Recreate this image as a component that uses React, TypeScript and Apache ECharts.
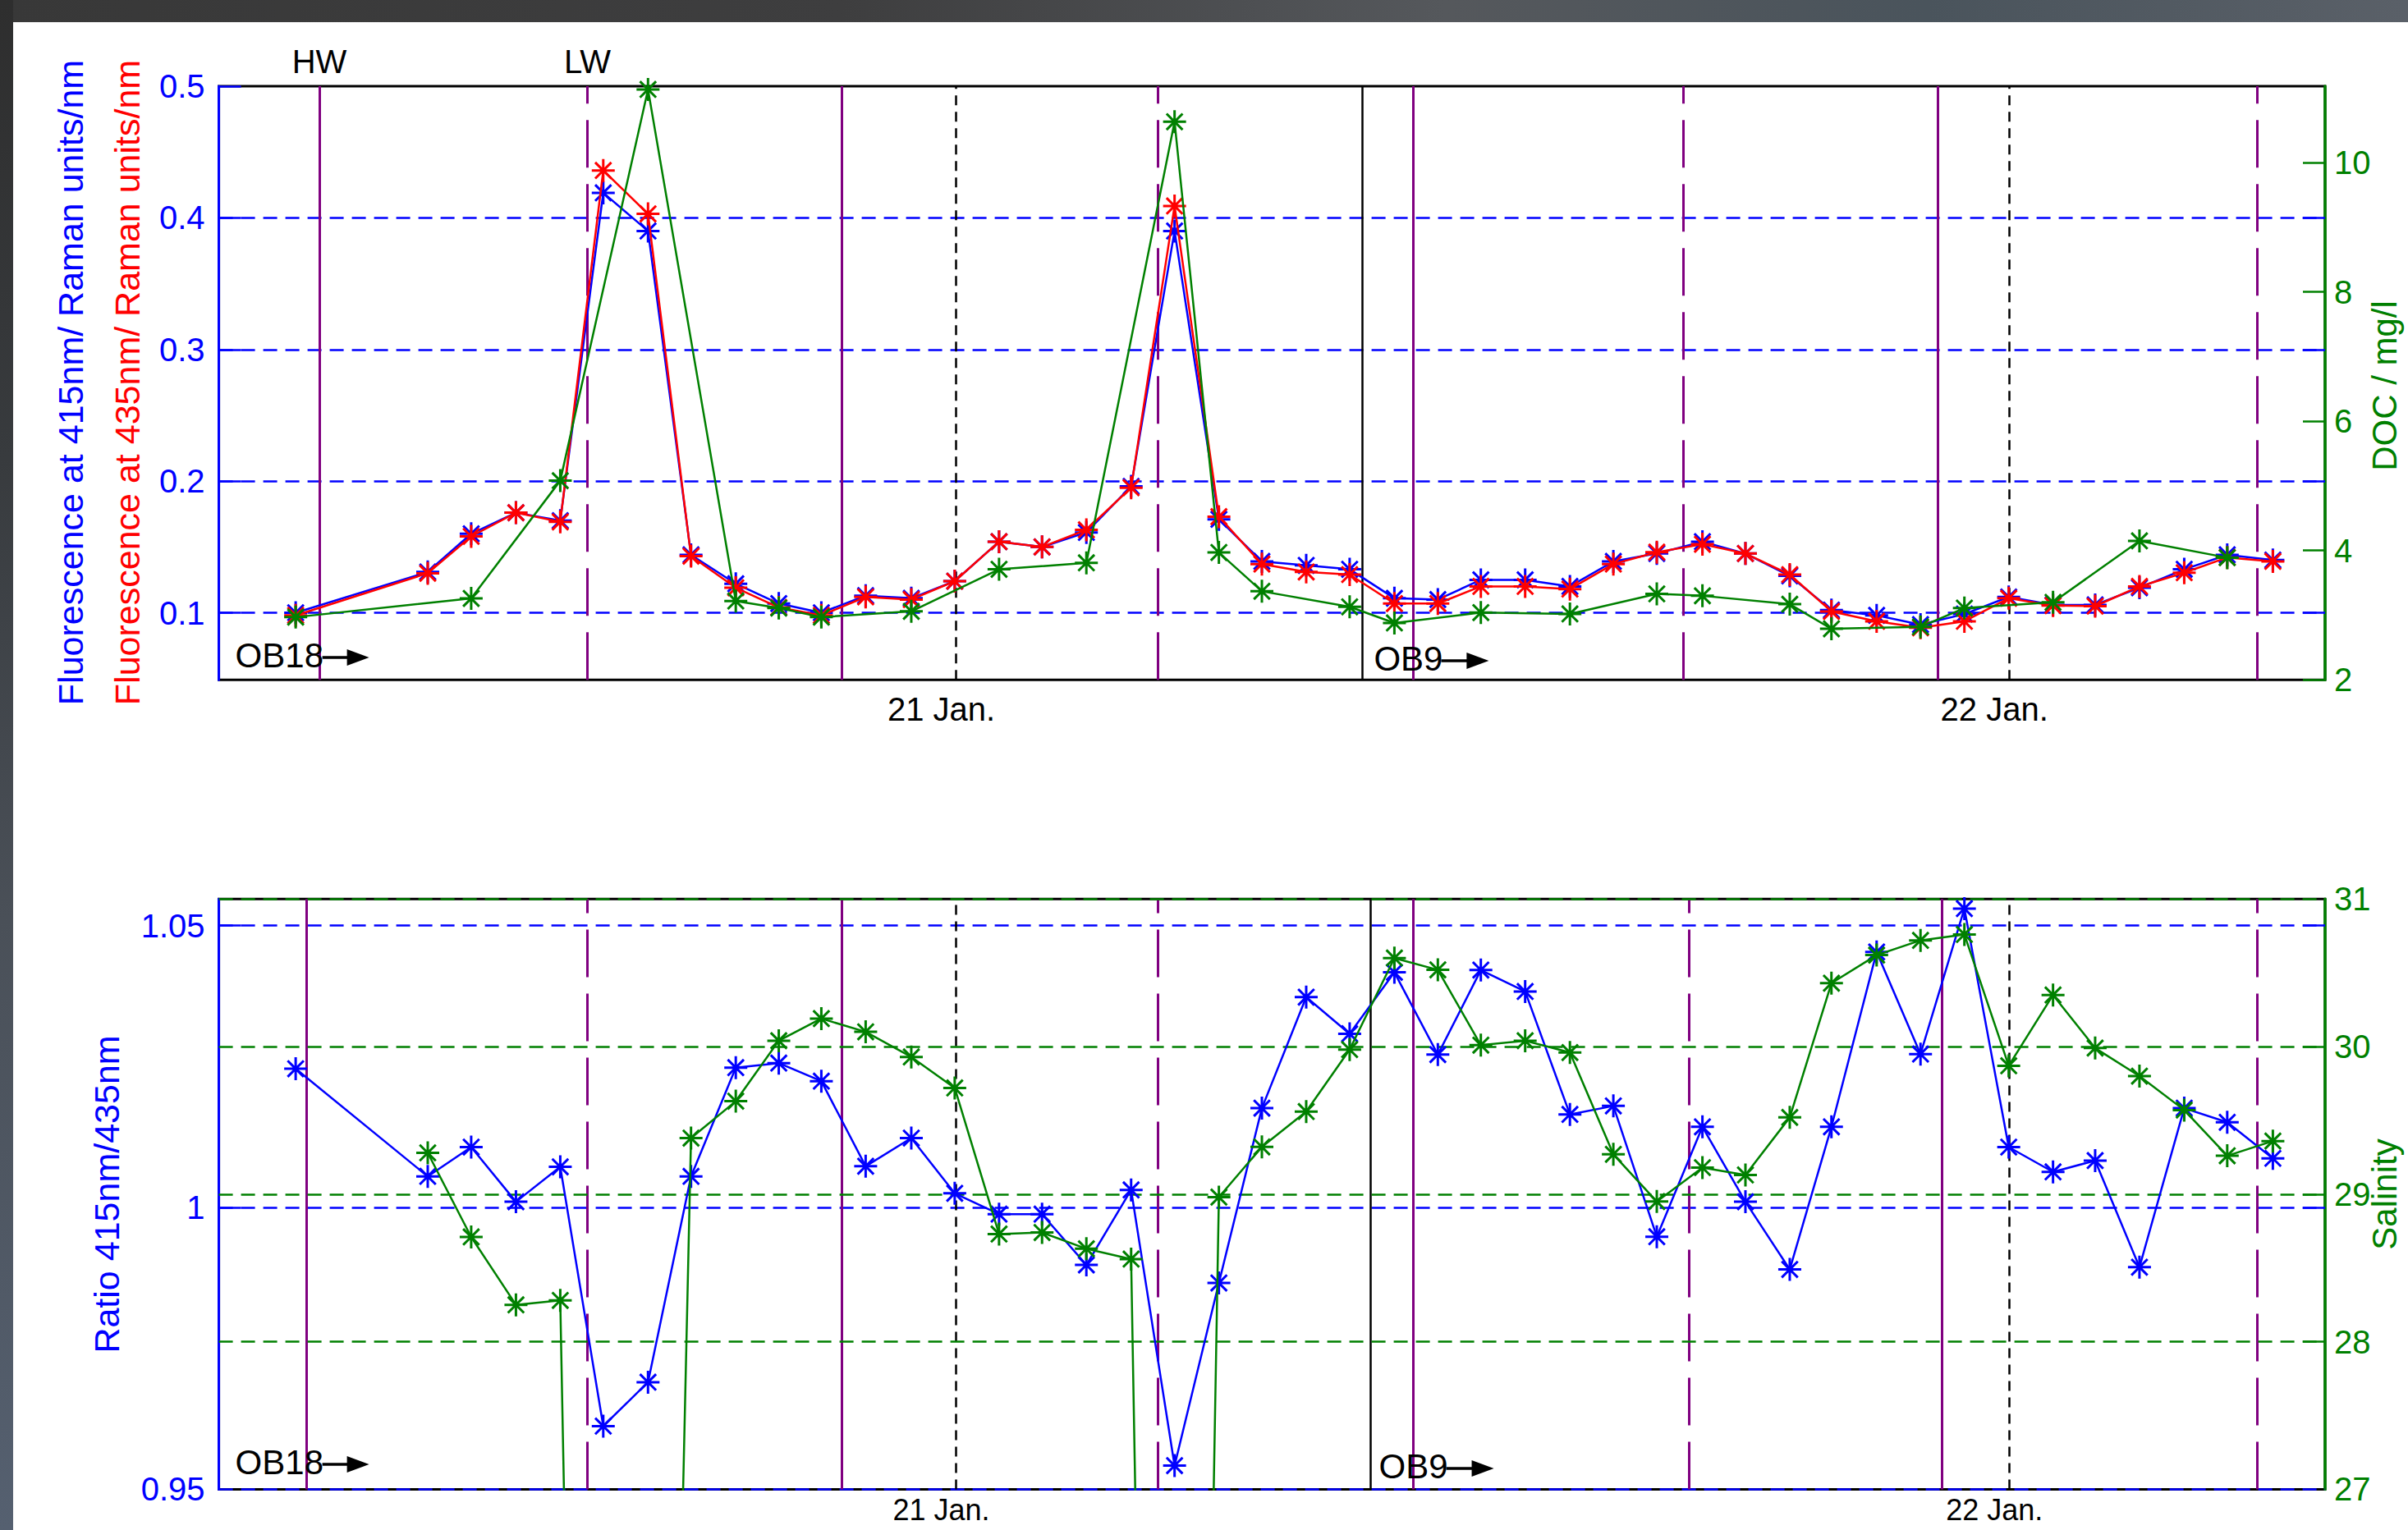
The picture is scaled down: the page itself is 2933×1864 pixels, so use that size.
import React, { useEffect, useRef } from 'react';
import * as echarts from 'echarts';

const W = 2933;
const H = 1864;
const BLUE = '#0000ff';
const RED = '#ff0000';
const GREEN = '#008000';
const PURPLE = '#800080';
const BLACK = '#000000';
const FONT = "'Liberation Sans', Arial, Helvetica, sans-serif";

// ---------- data (hours since 20 Jan 00:00) ----------
const timesFluor = [8.95, 11.96, 12.95, 13.97, 14.98, 15.96, 16.98, 17.96, 18.98, 19.96, 20.93, 21.94, 22.98, 23.97, 24.98, 25.96, 26.97, 27.99, 28.98, 29.99, 30.97, 31.98, 32.97, 33.99, 34.98, 35.96, 36.97, 37.99, 38.98, 39.97, 41.01, 41.99, 43.0, 43.95, 44.98, 45.98, 46.98, 47.99, 49.0, 49.96, 50.97, 51.99, 52.97, 54.01];
const fluor415 = [0.100, 0.131, 0.160, 0.176, 0.170, 0.419, 0.390, 0.144, 0.122, 0.107, 0.100, 0.113, 0.111, 0.124, 0.154, 0.150, 0.161, 0.196, 0.390, 0.171, 0.139, 0.136, 0.133, 0.111, 0.110, 0.125, 0.125, 0.120, 0.139, 0.145, 0.154, 0.145, 0.128, 0.102, 0.098, 0.091, 0.099, 0.112, 0.106, 0.106, 0.119, 0.133, 0.144, 0.140];
const fluor435 = [0.098, 0.130, 0.158, 0.176, 0.169, 0.436, 0.403, 0.143, 0.119, 0.104, 0.098, 0.112, 0.110, 0.124, 0.154, 0.150, 0.163, 0.195, 0.409, 0.173, 0.137, 0.131, 0.129, 0.107, 0.107, 0.120, 0.120, 0.118, 0.137, 0.146, 0.152, 0.145, 0.129, 0.101, 0.0935, 0.0886, 0.0935, 0.111, 0.1054, 0.105, 0.120, 0.1304, 0.142, 0.139];

const timesDOC = [8.95, 12.95, 14.98, 16.98, 18.98, 19.96, 20.93, 22.98, 24.98, 26.97, 28.98, 29.99, 30.97, 32.97, 33.99, 35.96, 37.99, 39.97, 41.01, 43.0, 43.95, 45.98, 46.98, 49.0, 50.97, 52.97];
const doc = [2.97, 3.26, 5.08, 11.13, 3.22, 3.11, 2.97, 3.06, 3.71, 3.81, 10.63, 3.97, 3.37, 3.13, 2.88, 3.04, 3.02, 3.33, 3.30, 3.17, 2.79, 2.82, 3.11, 3.20, 4.15, 3.89];

const ratio = [1.0246, 1.0055, 1.0107, 1.001, 1.0072, 0.9612, 0.969, 1.0055, 1.0248, 1.0256, 1.0224, 1.0073, 1.0123, 1.0025, 0.9988, 0.9988, 0.9898, 1.0031, 0.9542, 0.9866, 1.0176, 1.0373, 1.0308, 1.0417, 1.0271, 1.0421, 1.0383, 1.0165, 1.018, 0.9948, 1.0143, 1.001, 0.989, 1.0143, 1.0453, 1.0272, 1.053, 1.0107, 1.0063, 1.0083, 0.9894, 1.0176, 1.0151, 1.0087];

const timesSal = [11.96, 12.95, 13.97, 14.98, 15.96, 16.98, 17.96, 18.98, 19.96, 20.93, 21.94, 22.98, 23.97, 24.98, 25.96, 26.97, 27.99, 28.98, 29.99, 30.97, 31.98, 32.97, 33.99, 34.98, 35.96, 36.97, 37.99, 38.98, 39.97, 41.01, 41.99, 43.0, 43.95, 44.98, 45.98, 46.98, 47.99, 49.0, 49.96, 50.97, 51.99, 52.97, 54.01];
const salinity = [29.28, 28.71, 28.25, 28.28, 13.3, 16.4, 29.38, 29.63, 30.04, 30.19, 30.10, 29.93, 29.72, 28.73, 28.74, 28.63, 28.56, 12.0, 28.98, 29.32, 29.56, 29.98, 30.60, 30.52, 30.01, 30.04, 29.96, 29.27, 28.95, 29.18, 29.13, 29.52, 30.43, 30.62, 30.72, 30.76, 29.87, 30.35, 29.99, 29.80, 29.57, 29.26, 29.36];

// tide / station markers
const topHW = [9.49, 21.40, 34.41, 46.38];
const topLW = [15.60, 28.60, 40.58, 53.65];
const topStation = 33.26;
const botHW = [9.19, 21.40, 34.41, 46.46];
const botLW = [15.60, 28.60, 40.71, 53.65];
const botStation = 33.45;
const dayTicks = [24, 48];
const dayLabels = ['21 Jan.', '22 Jan.'];

const fluorTicks = [0.1, 0.2, 0.3, 0.4, 0.5];
const docTicks = [2, 4, 6, 8, 10];
const ratioTicks = [0.95, 1, 1.05];
const salTicks = [27, 28, 29, 30, 31];

const X_MIN = 7.2;
const X_MAX = 55.2;

const STAR = 'path://M0,-10L0,10M-10,0L10,0M-7,-7L7,7M-7,7L7,-7';

const pairs = (xs: number[], ys: number[]) => xs.map((x, i) => [x, ys[i]]);

const G1 = { left: 266.6, top: 105, width: 2565.4, height: 723.3 };
const G2 = { left: 266.6, top: 1095.3, width: 2565.4, height: 719.1 };

const GRID_DASH = [17, 10];
const hLine = (v: number, color: string) => ({ yAxis: v, lineStyle: { color, width: 2.5, type: GRID_DASH } });
const vLine = (v: number, color: string, type: any, width: number) => ({ xAxis: v, lineStyle: { color, width, type } });

function markLines(data: any[], z: number) {
  return {
    silent: true,
    symbol: ['none', 'none'],
    label: { show: false },
    emphasis: { disabled: true },
    animation: false,
    z,
    data,
  };
}

function vertLines(hw: number[], lw: number[], station: number) {
  return [
    ...dayTicks.map((d) => vLine(d, BLACK, [12, 8], 2.5)),
    ...hw.map((d) => vLine(d, PURPLE, 'solid', 3)),
    ...lw.map((d) => vLine(d, PURPLE, [58, 20], 3)),
    vLine(station, BLACK, 'solid', 2.5),
  ];
}

function dataSeries(name: string, xi: number, yi: number, data: number[][], color: string, z: number) {
  return {
    name,
    type: 'line',
    xAxisIndex: xi,
    yAxisIndex: yi,
    data,
    z,
    clip: true,
    symbol: STAR,
    symbolSize: 28,
    showAllSymbol: true,
    lineStyle: { color, width: 2.5 },
    itemStyle: { color, borderColor: color, borderWidth: 3 },
    emphasis: { disabled: true },
    silent: true,
  };
}

function helperSeries(xi: number, yi: number, data: number[][], mls: any[]) {
  return {
    type: 'line',
    xAxisIndex: xi,
    yAxisIndex: yi,
    data,
    symbol: 'none',
    silent: true,
    z: 1,
    lineStyle: { opacity: 0, width: 0 },
    emphasis: { disabled: true },
    markLine: markLines(mls, 2),
  };
}

const xAxisFor = (gi: number, margin: number, size: number) => ({
  type: 'value',
  gridIndex: gi,
  min: X_MIN,
  max: X_MAX,
  axisLine: { show: false },
  axisTick: { show: false },
  splitLine: { show: false },
  axisLabel: {
    customValues: dayTicks,
    formatter: (v: number) => {
      const i = dayTicks.findIndex((d) => Math.abs(d - v) < 1e-6);
      return i >= 0 ? dayLabels[i] : '';
    },
    color: BLACK,
    fontFamily: FONT,
    fontSize: size,
    margin,
    padding: [0, 36, 0, 0],
  },
});

const fmt = (list: number[]) => (v: number) => {
  const hit = list.find((t) => Math.abs(t - v) < 1e-6);
  return hit === undefined ? '' : String(hit);
};

const option: any = {
  animation: false,
  backgroundColor: '#ffffff',
  grid: [
    { ...G1, show: true, borderColor: BLACK, borderWidth: 3, backgroundColor: 'transparent' },
    { ...G2, show: true, borderColor: BLACK, borderWidth: 3, backgroundColor: 'transparent' },
  ],
  xAxis: [xAxisFor(0, 16, 40), xAxisFor(1, 7, 36)],
  yAxis: [
    {
      type: 'value', gridIndex: 0, position: 'left', min: 0.049, max: 0.5,
      axisLine: { show: true, lineStyle: { color: BLUE, width: 3 } },
      axisTick: { show: true, inside: true, length: 27, customValues: fluorTicks, lineStyle: { color: BLUE, width: 2.5 } },
      axisLabel: { customValues: fluorTicks, formatter: fmt(fluorTicks), color: BLUE, fontFamily: FONT, fontSize: 40, margin: 17 },
      splitLine: { show: false },
    },
    {
      type: 'value', gridIndex: 0, position: 'right', min: 2, max: 11.18,
      axisLine: { show: true, lineStyle: { color: GREEN, width: 3.5 } },
      axisTick: { show: true, inside: true, length: 27, customValues: docTicks, lineStyle: { color: GREEN, width: 2.5 } },
      axisLabel: { customValues: docTicks, formatter: fmt(docTicks), color: GREEN, fontFamily: FONT, fontSize: 40, margin: 11 },
      splitLine: { show: false },
    },
    {
      type: 'value', gridIndex: 0, position: 'right', min: 0.049, max: 0.5,
      axisLine: { show: false },
      axisTick: { show: true, inside: true, length: 27, customValues: [0.1, 0.2, 0.3, 0.4], lineStyle: { color: BLUE, width: 2.5 } },
      axisLabel: { show: false },
      splitLine: { show: false },
    },
    {
      type: 'value', gridIndex: 1, position: 'left', min: 0.95, max: 1.0547,
      axisLine: { show: true, lineStyle: { color: BLUE, width: 3 } },
      axisTick: { show: true, inside: true, length: 27, customValues: [1, 1.05], lineStyle: { color: BLUE, width: 2.5 } },
      axisLabel: { customValues: ratioTicks, formatter: fmt(ratioTicks), color: BLUE, fontFamily: FONT, fontSize: 40, margin: 17 },
      splitLine: { show: false },
    },
    {
      type: 'value', gridIndex: 1, position: 'right', min: 27, max: 31,
      axisLine: { show: true, lineStyle: { color: GREEN, width: 3.5 } },
      axisTick: { show: true, inside: true, length: 27, customValues: [28, 29, 30], lineStyle: { color: GREEN, width: 2.5 } },
      axisLabel: { customValues: salTicks, formatter: fmt(salTicks), color: GREEN, fontFamily: FONT, fontSize: 40, margin: 11 },
      splitLine: { show: false },
    },
    {
      type: 'value', gridIndex: 1, position: 'right', min: 0.95, max: 1.0547,
      axisLine: { show: false },
      axisTick: { show: true, inside: true, length: 27, customValues: [1, 1.05], lineStyle: { color: BLUE, width: 2.5 } },
      axisLabel: { show: false },
      splitLine: { show: false },
    },
  ],
  series: [
    helperSeries(0, 0, pairs(timesFluor, fluor415), [
      ...[0.1, 0.2, 0.3, 0.4].map((v) => hLine(v, BLUE)),
      ...vertLines(topHW, topLW, topStation),
    ]),
    helperSeries(1, 3, pairs(timesFluor, ratio), [
      ...[0.95, 1, 1.05].map((v) => hLine(v, BLUE)),
      ...vertLines(botHW, botLW, botStation),
    ]),
    helperSeries(1, 4, pairs(timesSal, salinity), [
      ...[28, 29, 30, 31].map((v) => hLine(v, GREEN)),
    ]),
    dataSeries('Fluorescence 415nm', 0, 0, pairs(timesFluor, fluor415), BLUE, 10),
    dataSeries('Fluorescence 435nm', 0, 0, pairs(timesFluor, fluor435), RED, 11),
    dataSeries('DOC', 0, 1, pairs(timesDOC, doc), GREEN, 12),
    dataSeries('Ratio 415/435', 1, 3, pairs(timesFluor, ratio), BLUE, 10),
    dataSeries('Salinity', 1, 4, pairs(timesSal, salinity), GREEN, 11),
  ],
};

function txt(text: string, x: number, y: number, color: string, size: number, align: string, rotation = 0) {
  return {
    type: 'text',
    x,
    y,
    rotation,
    z: 50,
    silent: true,
    style: {
      text,
      fill: color,
      fontFamily: FONT,
      fontSize: size,
      align,
      verticalAlign: 'middle',
    },
  };
}

function arrow(x1: number, x2: number, headStart: number, headEnd: number, y: number) {
  return [
    { type: 'line', z: 50, silent: true, shape: { x1, y1: y, x2, y2: y }, style: { stroke: BLACK, lineWidth: 3.5 } },
    { type: 'polygon', z: 50, silent: true, shape: { points: [[headStart, y - 10], [headEnd, y], [headStart, y + 10]] }, style: { fill: BLACK } },
  ];
}

export default function App() {
  const ref = useRef<HTMLDivElement>(null);
  useEffect(() => {
    if (!ref.current) return;
    const chart = echarts.init(ref.current, null, { renderer: 'svg' });
    chart.setOption(option);

    const px = (xi: number, v: number) => chart.convertToPixel({ xAxisIndex: xi } as any, v) as unknown as number;

    const hwX = px(0, topHW[0]);
    const lwX = px(0, topLW[0]);
    const st1 = px(0, topStation) + 14;
    const st2 = px(1, botStation) + 10;
    const ob18x = G1.left + 20;

    const graphics: any[] = [
      {
        type: 'rect', z: 0, silent: true,
        shape: { x: 0, y: 0, width: W, height: 27 },
        style: {
          fill: new echarts.graphic.LinearGradient(0, 0, 1, 0, [
            { offset: 0, color: '#383838' },
            { offset: 0.35, color: '#3e3e3f' },
            { offset: 0.6, color: '#55585c' },
            { offset: 0.8, color: '#4a545c' },
            { offset: 1, color: '#5a6068' },
          ]),
        },
      },
      {
        type: 'rect', z: 0, silent: true,
        shape: { x: 0, y: 0, width: 16, height: H },
        style: {
          fill: new echarts.graphic.LinearGradient(0, 0, 0, 1, [
            { offset: 0, color: '#2e2e2e' },
            { offset: 0.3, color: '#383b3e' },
            { offset: 0.6, color: '#4a5058' },
            { offset: 1, color: '#556070' },
          ]),
        },
      },
      txt('HW', hwX, 75, BLACK, 40, 'center'),
      txt('LW', lwX, 75, BLACK, 40, 'center'),
      txt('Fluorescence at 415nm/ Raman units/nm', 86, 466, BLUE, 43, 'center', Math.PI / 2),
      txt('Fluorescence at 435nm/ Raman units/nm', 155, 466, RED, 43, 'center', Math.PI / 2),
      txt('DOC / mg/l', 2904, 470, GREEN, 42, 'center', Math.PI / 2),
      txt('Ratio 415nm/435nm', 130, 1455, BLUE, 43, 'center', Math.PI / 2),
      txt('Salinity', 2904, 1455, GREEN, 42, 'center', Math.PI / 2),
      txt('OB18', ob18x, 798, BLACK, 42, 'left'),
      ...arrow(ob18x + 106, ob18x + 140, ob18x + 136, ob18x + 163, 801),
      txt('OB9', st1, 802, BLACK, 42, 'left'),
      ...arrow(st1 + 82, st1 + 117, st1 + 113, st1 + 140, 805),
      txt('OB18', ob18x, 1781, BLACK, 42, 'left'),
      ...arrow(ob18x + 106, ob18x + 140, ob18x + 136, ob18x + 163, 1784),
      txt('OB9', st2, 1786, BLACK, 42, 'left'),
      ...arrow(st2 + 82, st2 + 117, st2 + 113, st2 + 140, 1789),
    ];
    chart.setOption({ graphic: graphics });

    return () => chart.dispose();
  }, []);
  return <div ref={ref} style={{ position: 'fixed', left: 0, top: 0, width: W, height: H }} />;
}
